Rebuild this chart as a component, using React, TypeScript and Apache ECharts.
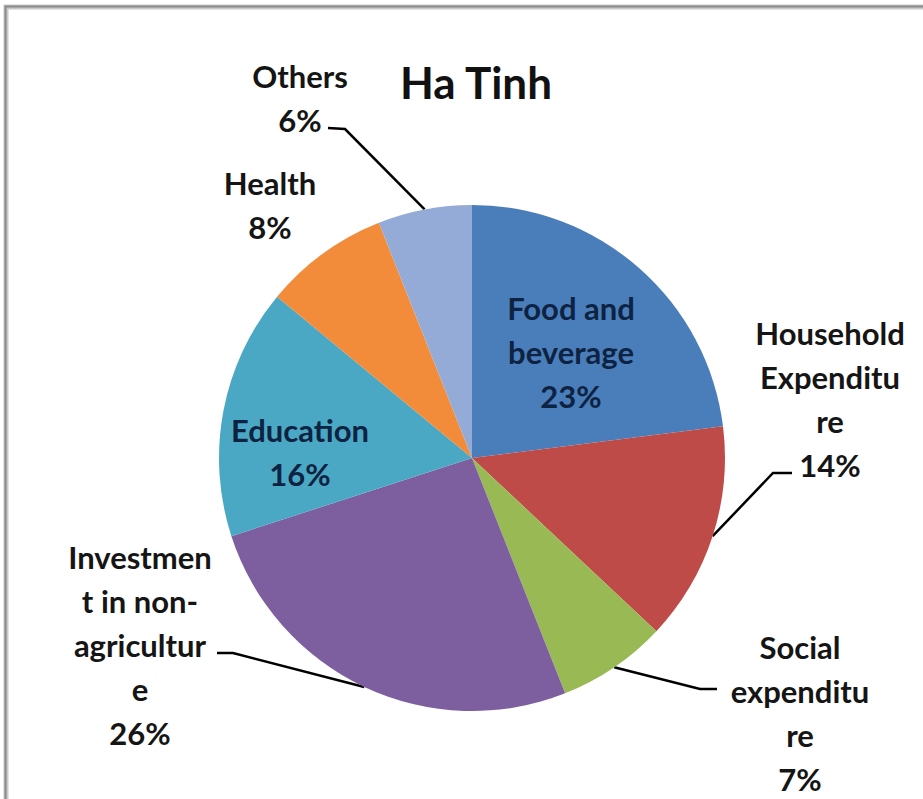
import React, { useEffect, useRef } from "react";
import * as echarts from "echarts";

const title = "Ha Tinh";
const categories = [
  "Food and beverage",
  "Household Expenditure",
  "Social expenditure",
  "Investment in non-agriculture",
  "Education",
  "Health",
  "Others",
];
const values = [23, 14, 7, 26, 16, 8, 6];
const labelNames = [
  "Food and\nbeverage",
  "Household\nExpenditu\nre",
  "Social\nexpenditu\nre",
  "Investmen\nt in non-\nagricultur\ne",
  "Education",
  "Health",
  "Others",
];
const colors = ["#4A7EBB", "#BE4B48", "#98B954", "#7D5FA0", "#4AA8C4", "#F28C3B", "#94ABD8"];

// layout (positions only)
const inside = [true, false, false, false, true, false, false];
const labelPos: { x: number; y: number; line?: number[][] }[] = [
  { x: 571, y: 352 },
  { x: 830, y: 399, line: [[773, 473], [792, 473]] },
  { x: 800, y: 713, line: [[700, 689], [717, 689]] },
  { x: 140, y: 645, line: [[233, 653], [217, 653]] },
  { x: 300, y: 452 },
  { x: 270, y: 205 },
  { x: 300, y: 98, line: [[345, 129], [328, 128]] },
];

const FONT = "Lato, 'Open Sans', sans-serif";

export default function App() {
  const ref = useRef<HTMLDivElement>(null);
  useEffect(() => {
    if (!ref.current) return;
    const chart = echarts.init(ref.current, undefined, { renderer: "svg" });
    const data = categories.map((name, i) => ({
      name,
      value: values[i],
      itemStyle: { color: colors[i] },
      label: {
        color: inside[i] ? "#0E2342" : "#151515",
      },
      labelLine: { show: !!labelPos[i].line },
    }));
    chart.setOption({
      animation: false,
      backgroundColor: "#ffffff",
      title: {
        text: title,
        left: 471,
        top: 77,
        textAlign: "center",
        textVerticalAlign: "middle",
        textStyle: {
          fontFamily: FONT,
          fontWeight: "bold",
          fontSize: 44,
          color: "#111111",
        },
      },
      graphic: [
        {
          type: "rect",
          shape: { x: 6, y: 7, width: 1200, height: 1200 },
          style: { fill: "none", stroke: "#c8c8c8", lineWidth: 5 },
          silent: true,
        },
        {
          type: "rect",
          shape: { x: 5.5, y: 6.5, width: 1200, height: 1200 },
          style: { fill: "none", stroke: "#8a8a8a", lineWidth: 2 },
          silent: true,
        },
      ],
      series: [
        {
          type: "pie",
          center: [472, 458],
          radius: 253,
          startAngle: 90,
          clockwise: true,
          avoidLabelOverlap: false,
          data,
          itemStyle: { borderWidth: 0 },
          label: {
            show: true,
            position: "outside",
            fontFamily: FONT,
            fontWeight: "bold",
            fontSize: 31,
            lineHeight: 44,
            align: "center",
            formatter: (p: any) => `${labelNames[p.dataIndex]}\n${p.value}%`,
          },
          labelLine: {
            show: true,
            smooth: false,
            lineStyle: { color: "#000000", width: 2.5 },
          },
          labelLayout: (params: any) => {
            const pos = labelPos[params.dataIndex];
            const res: any = {
              x: pos.x,
              y: pos.y,
              align: "center",
              verticalAlign: "middle",
            };
            if (pos.line && params.labelLinePoints && params.labelLinePoints[0]) {
              res.labelLinePoints = [params.labelLinePoints[0], ...pos.line];
            }
            return res;
          },
        },
      ],
    });
    return () => chart.dispose();
  }, []);
  return (
    <div
      ref={ref}
      style={{ position: "fixed", left: 0, top: 0, width: 923, height: 799 }}
    />
  );
}
